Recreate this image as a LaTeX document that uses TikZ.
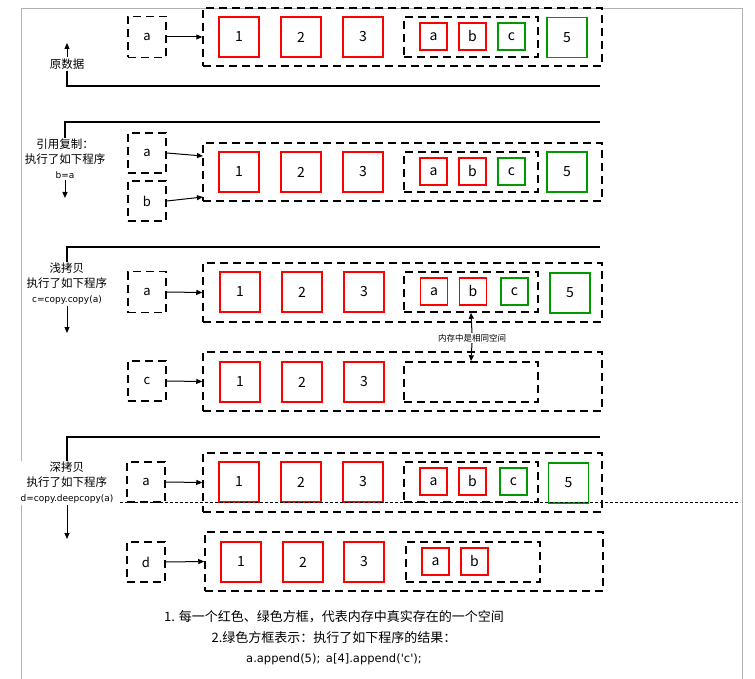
\documentclass[tikz,border=0pt]{standalone}
\usepackage{fontspec}
\setmainfont{Noto Sans CJK SC}
\newfontfamily\latf{DejaVu Sans}
\usetikzlibrary{arrows.meta}
\begin{document}
\begin{tikzpicture}[x=1pt,y=-1pt,
  dbox/.style={draw,line width=1.5pt,dash pattern=on 8pt off 5pt},
  rbox/.style={draw=red,line width=1.3pt},
  gbox/.style={draw=green!60!black,line width=1.3pt},
  lbl/.style={font=\fontsize{11.5}{15}\selectfont,align=center,inner sep=1pt},
  num/.style={font=\fontsize{14}{16}\selectfont},
  vname/.style={font=\fontsize{13}{15}\selectfont},
  arr/.style={-{Triangle[length=6pt,width=5pt]},line width=1pt},
  br/.style={line width=1.2pt}]
\useasboundingbox (0,0) rectangle (755,679);
\draw[gray!60,line width=0.8pt] (21,679) -- (21,8) -- (742,8) -- (742,679);
% ---------- Section 1
\node[dbox,minimum width=38,minimum height=41,vname] (a1) at (147,37) {a};
\node[dbox,minimum width=399,minimum height=58] (L1) at (402.5,37) {};
\foreach \x/\t [count=\i] in {239/1,301/2,363/3}{\node[rbox,minimum size=40,num] (r1\i) at (\x,37) {\t};}
\node[dbox,minimum width=134,minimum height=40] (I1) at (471,37) {};
\node[rbox,minimum size=27,num] (a1a) at (433.5,36.5) {a};
\node[rbox,minimum size=27,num] (a1b) at (472.5,36.5) {b};
\node[gbox,minimum size=27,num] (a1c) at (511.5,36.5) {c};
\node[gbox,minimum size=40,num] (f1) at (567,37.5) {5};
\draw[arr] (a1.east) -- (L1.west);
\node[lbl] (t1) at (67,64) {原数据};
\coordinate (u1) at (67,43);
\draw[arr] (t1.north) -- (u1);
\coordinate (p1) at (67,86); \coordinate (q1) at (600,86);
\draw[br] (t1.south) -- (p1) -- (q1);
% ---------- Section 2
\node[dbox,minimum width=38,minimum height=40,vname] (a2) at (147,153) {a};
\node[dbox,minimum width=38,minimum height=40,vname] (b2) at (147,201) {b};
\node[dbox,minimum width=399,minimum height=58] (L2) at (402.5,172) {};
\foreach \x/\t [count=\i] in {239/1,301/2,363/3}{\node[rbox,minimum size=40,num] (r2\i) at (\x,172) {\t};}
\node[dbox,minimum width=134,minimum height=40] (I2) at (471,172) {};
\node[rbox,minimum size=27,num] (a2a) at (433.5,171.5) {a};
\node[rbox,minimum size=27,num] (a2b) at (472.5,171.5) {b};
\node[gbox,minimum size=27,num] (a2c) at (511.5,171.5) {c};
\node[gbox,minimum size=40,num] (f2) at (567,172) {5};
\coordinate (e2a) at (203,156); \coordinate (e2b) at (203,197);
\draw[arr] (a2.east) -- (e2a);
\draw[arr] (b2.east) -- (e2b);
\node[lbl,fill=white] (t2) at (65,159) {引用复制：\\执行了如下程序\\{\latf\fontsize{9}{11}\selectfont b=a}};
\coordinate (d2) at (65,198);
\draw[arr] (t2.south) -- (d2);
\coordinate (p2) at (65,122); \coordinate (q2) at (600,122);
\draw[br] (t2.north) -- (p2) -- (q2);
% ---------- Section 3
\node[dbox,minimum width=38,minimum height=41,vname] (a3) at (147,292) {a};
\node[dbox,minimum width=399,minimum height=59] (L3) at (402.5,292.5) {};
\foreach \x/\t [count=\i] in {240/1,302/2,364/3}{\node[rbox,minimum size=40,num] (r3\i) at (\x,292) {\t};}
\node[dbox,minimum width=134,minimum height=40] (I3) at (471,292) {};
\node[rbox,minimum size=27,num] (a3a) at (434,291.5) {a};
\node[rbox,minimum size=27,num] (a3b) at (473,291.5) {b};
\node[gbox,minimum size=27,num] (a3c) at (514.5,291.5) {c};
\node[gbox,minimum size=40,num] (f3) at (570,293) {5};
\draw[arr] (a3.east) -- (L3.west);
\node[lbl,fill=white] (t3) at (67,284) {浅拷贝\\执行了如下程序\\{\latf\fontsize{9}{11}\selectfont c=copy.copy(a)}};
\coordinate (d3) at (67,333);
\draw[arr] (t3.south) -- (d3);
\coordinate (p3) at (67,247); \coordinate (q3) at (600,247);
\draw[br] (t3.north) -- (p3) -- (q3);
% c row
\node[dbox,minimum width=38,minimum height=40,vname] (c3) at (147,381) {c};
\node[dbox,minimum width=399,minimum height=59] (L4) at (402.5,381.5) {};
\foreach \x/\t [count=\i] in {240/1,302/2,364/3}{\node[rbox,minimum size=40,num] (r4\i) at (\x,382) {\t};}
\node[dbox,minimum width=134,minimum height=40] (I4) at (471,382) {};
\draw[arr] (c3.east) -- (L4.west);
\node[font=\fontsize{8.5}{10}\selectfont,inner sep=1pt] (same) at (472,338) {内存中是相同空间};
\draw[arr] (same.north) -- (I3.south);
\draw[arr] (same.south) -- (I4.north);
% ---------- Section 4
\node[dbox,minimum width=38,minimum height=40,vname] (a5) at (146,482) {a};
\node[dbox,minimum width=399,minimum height=59] (L5) at (402.5,482.5) {};
\foreach \x/\t [count=\i] in {239/1,301/2,363/3}{\node[rbox,minimum size=40,num] (r5\i) at (\x,482) {\t};}
\node[dbox,minimum width=134,minimum height=40] (I5) at (471,482) {};
\node[rbox,minimum size=27,num] (a5a) at (433.5,481.5) {a};
\node[rbox,minimum size=27,num] (a5b) at (472.5,481.5) {b};
\node[gbox,minimum size=27,num] (a5c) at (513.5,481.5) {c};
\node[gbox,minimum size=40,num] (f5) at (568.5,483) {5};
\draw[arr] (a5.east) -- (L5.west);
\coordinate (h1) at (120,502); \coordinate (h2) at (740,502);
\draw[densely dashed,line width=0.6pt] (h1) -- (h2);
\node[lbl,fill=white] (t5) at (67,483) {深拷贝\\执行了如下程序\\{\latf\fontsize{9}{11}\selectfont d=copy.deepcopy(a)}};
\coordinate (d5) at (67,539);
\draw[arr] (t5.south) -- (d5);
\coordinate (p5) at (67,437); \coordinate (q5) at (600,437);
\draw[br] (t5.north) -- (p5) -- (q5);
% d row
\node[dbox,minimum width=38,minimum height=40,vname] (d6) at (146,562) {d};
\node[dbox,minimum width=398,minimum height=59] (L6) at (404,561.5) {};
\foreach \x/\t [count=\i] in {241/1,303/2,364/3}{\node[rbox,minimum size=40,num] (r6\i) at (\x,562) {\t};}
\node[dbox,minimum width=134,minimum height=40] (I6) at (473,562) {};
\node[rbox,minimum size=27,num] (a6a) at (435.5,561.5) {a};
\node[rbox,minimum size=27,num] (a6b) at (474.5,561.5) {b};
\draw[arr] (d6.east) -- (L6.west);
% footer
\node[font=\fontsize{13}{20.5}\selectfont,align=center] (foot) at (334,638) {1. 每一个红色、绿色方框，代表内存中真实存在的一个空间\\2.绿色方框表示：执行了如下程序的结果：\\{\latf\fontsize{11.5}{14}\selectfont a.append(5);\, a[4].append('c');}};
\end{tikzpicture}
\end{document}
